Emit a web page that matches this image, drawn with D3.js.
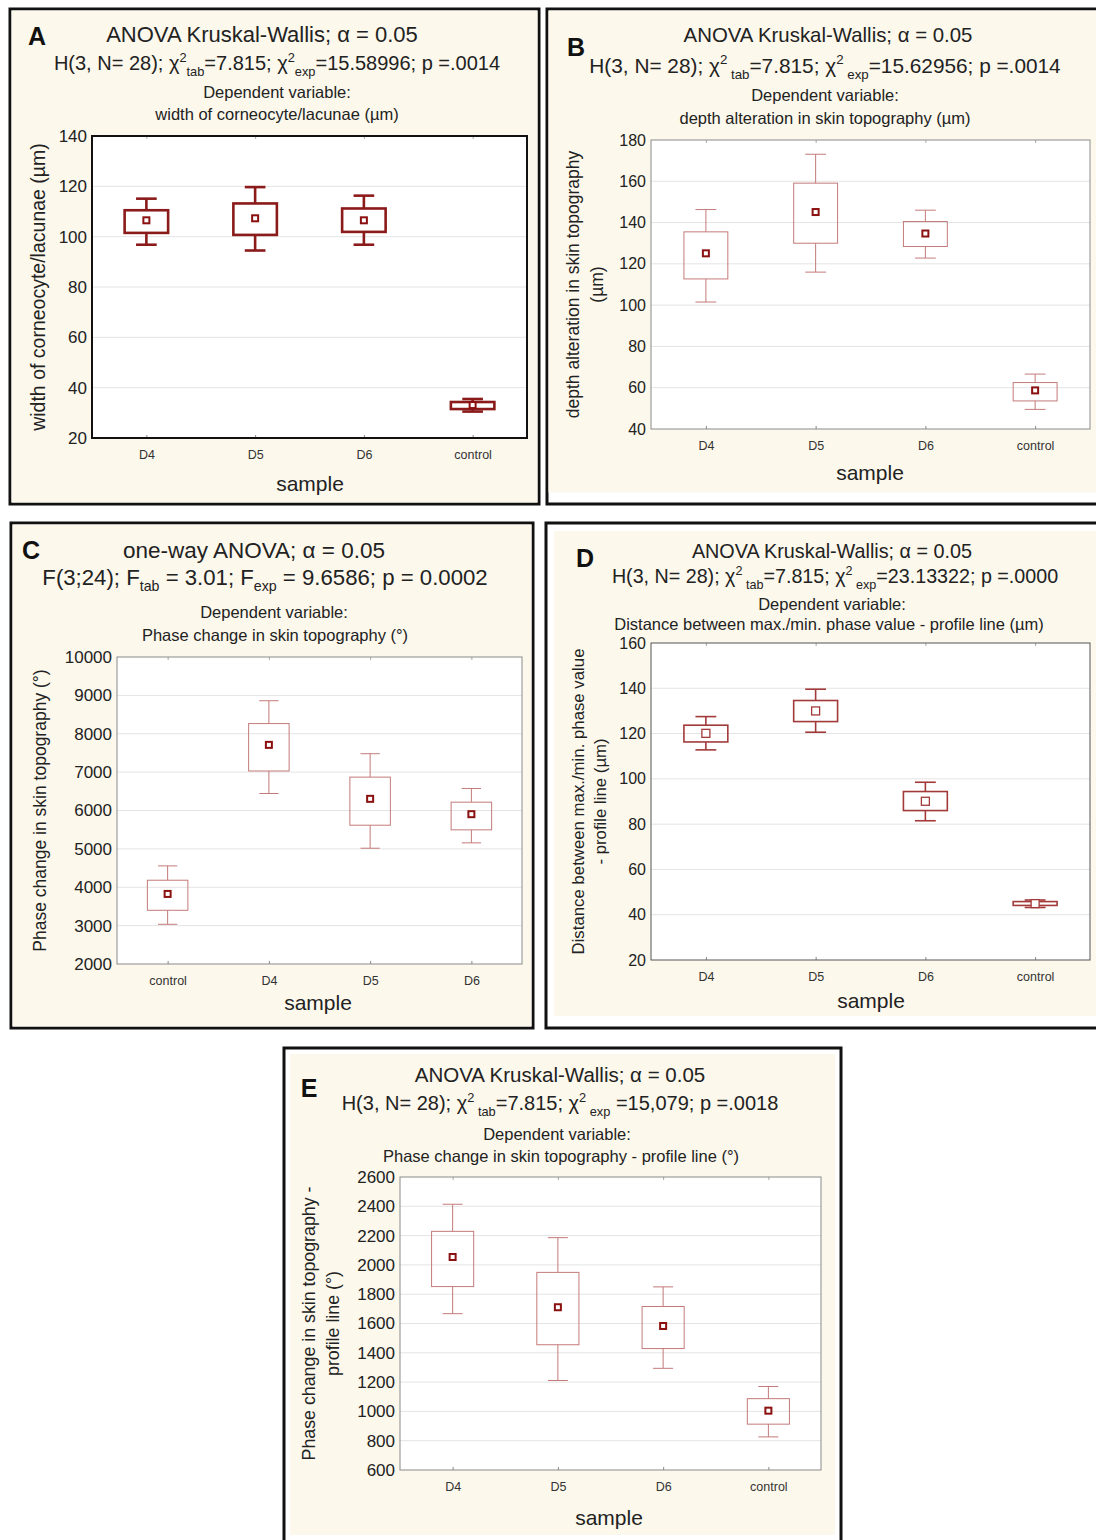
<!DOCTYPE html>
<html>
<head>
<meta charset="utf-8">
<script src="https://cdn.jsdelivr.net/npm/d3@7"></script>
<style>
  body { margin: 0; background: #fff; }
  svg { display: block; font-family: "Liberation Sans", Arial, sans-serif; }
</style>
</head>
<body>
<svg id="fig" width="1096" height="1540"></svg>
<script>
// ---- data ----
const catsA = ["D4", "D5", "D6", "control"];
const whiskHiA = [115.1, 119.7, 116.3, 35.5];
const boxHiA = [110.5, 113.2, 111.2, 34.3];
const meanA = [106.5, 107.3, 106.5, 33.1];
const boxLoA = [101.5, 100.7, 101.9, 31.5];
const whiskLoA = [96.8, 94.5, 96.8, 30.5];
const ticksA = [20, 40, 60, 80, 100, 120, 140];

const catsB = ["D4", "D5", "D6", "control"];
const whiskHiB = [146.3, 173.1, 146.0, 66.6];
const boxHiB = [135.5, 159.1, 140.5, 62.5];
const meanB = [125.1, 145.1, 134.7, 58.7];
const boxLoB = [112.7, 130.0, 128.4, 53.6];
const whiskLoB = [101.5, 116.0, 122.8, 49.5];
const ticksB = [40, 60, 80, 100, 120, 140, 160, 180];

const catsC = ["control", "D4", "D5", "D6"];
const whiskHiC = [4557, 8860, 7480, 6574];
const boxHiC = [4183, 8265, 6870, 6217];
const meanC = [3826, 7710, 6304, 5904];
const boxLoC = [3400, 7030, 5617, 5496];
const whiskLoC = [3035, 6443, 5017, 5157];
const ticksC = [2000, 3000, 4000, 5000, 6000, 7000, 8000, 9000, 10000];

const catsD = ["D4", "D5", "D6", "control"];
const whiskHiD = [127.5, 139.6, 98.5, 46.5];
const boxHiD = [123.7, 134.6, 94.4, 45.8];
const meanD = [120.1, 130.0, 90.1, 44.9];
const boxLoD = [116.3, 125.3, 86.0, 44.1];
const whiskLoD = [112.8, 120.6, 81.5, 43.2];
const ticksD = [20, 40, 60, 80, 100, 120, 140, 160];

const catsE = ["D4", "D5", "D6", "control"];
const whiskHiE = [2414, 2186, 1850, 1170];
const boxHiE = [2229, 1949, 1716, 1087];
const meanE = [2054, 1711, 1583, 1005];
const boxLoE = [1852, 1455, 1429, 913];
const whiskLoE = [1667, 1211, 1294, 826];
const ticksE = [600, 800, 1000, 1200, 1400, 1600, 1800, 2000, 2200, 2400, 2600];

// text lines (segments: plain string, or {sup} / {sub})
const kwLine = "ANOVA Kruskal-Wallis; α = 0.05";
const statA = ["H(3, N= 28); χ", {sup: "2"}, {sub: "tab"}, "=7.815; χ", {sup: "2"}, {sub: "exp"}, "=15.58996; p =.0014"];
const statB = ["H(3, N= 28); χ", {sup: "2"}, {sub: " tab"}, "=7.815; χ", {sup: "2"}, {sub: " exp"}, "=15.62956; p =.0014"];
const statC = ["F(3;24); F", {sub: "tab"}, " = 3.01; F", {sub: "exp"}, " = 9.6586; p = 0.0002"];
const statD = ["H(3, N= 28); χ", {sup: "2"}, {sub: " tab"}, "=7.815; χ", {sup: "2"}, {sub: " exp"}, "=23.13322; p =.0000"];
const statE = ["H(3, N= 28); χ", {sup: "2"}, {sub: " tab"}, "=7.815; χ", {sup: "2"}, {sub: " exp"}, " =15,079; p =.0018"];

const beige = "#fcf8ec";
const svg = d3.select("#fig");

function richText(g, x, y, segs, size, fill) {
  const t = g.append("text").attr("x", x).attr("y", y)
    .attr("text-anchor", "middle").style("font-size", size + "px").style("fill", fill || "#222");
  let shift = 0;
  segs.forEach(s => {
    let target = 0, txt = s, fs = size;
    if (typeof s !== "string") {
      txt = s.sup || s.sub;
      fs = size * 0.64;
      target = s.sup ? -size * 0.42 : size * 0.28;
    }
    t.append("tspan").attr("dy", target - shift).style("font-size", fs + "px").text(txt);
    shift = target;
  });
  return t;
}

function drawPanel(p) {
  const g = svg.append("g");
  // outer frame + beige backing
  g.append("rect").attr("x", p.frame[0]).attr("y", p.frame[1]).attr("width", p.frame[2]).attr("height", p.frame[3])
    .attr("fill", "#fff").attr("stroke", "#111").attr("stroke-width", 3);
  g.append("rect").attr("x", p.bg[0]).attr("y", p.bg[1]).attr("width", p.bg[2]).attr("height", p.bg[3])
    .attr("fill", beige);

  const [px, py, pw, ph] = p.plot;
  const x = d3.scalePoint().domain(p.cats).range([px, px + pw]).padding(0.5);
  const y = d3.scaleLinear().domain(d3.extent(p.ticks)).range([py + ph, py]);
  const step = x.step();

  g.append("rect").attr("x", px).attr("y", py).attr("width", pw).attr("height", ph).attr("fill", "#fff");

  // grid
  g.append("g").selectAll("line").data(p.ticks.slice(1, -1)).join("line")
    .attr("x1", px).attr("x2", px + pw).attr("y1", d => y(d)).attr("y2", d => y(d))
    .attr("stroke", "#e4e4e4").attr("stroke-width", 1);

  // y axis labels
  const ya = g.append("g").attr("transform", `translate(${px - 5},0)`)
    .call(d3.axisLeft(y).tickValues(p.ticks).tickFormat(d3.format("d")).tickSize(0).tickPadding(0));
  ya.select(".domain").remove();
  ya.selectAll("text").style("font-size", p.yFont + "px").style("fill", "#222")
    .style("font-family", "Liberation Sans, Arial, sans-serif");

  // small category ticks top/bottom
  const xb = g.append("g").attr("transform", `translate(0,${py + ph})`)
    .call(d3.axisBottom(x).tickSizeInner(-3).tickSizeOuter(0).tickPadding(12));
  xb.select(".domain").remove();
  xb.selectAll("line").attr("stroke", "#888");
  xb.selectAll("text").style("font-size", "12.5px").style("fill", "#333")
    .style("font-family", "Liberation Sans, Arial, sans-serif");
  const xt = g.append("g").attr("transform", `translate(0,${py})`)
    .call(d3.axisTop(x).tickSizeInner(-3).tickSizeOuter(0).tickFormat(""));
  xt.select(".domain").remove();
  xt.selectAll("line").attr("stroke", "#aaa");

  // plot frame
  g.append("rect").attr("x", px).attr("y", py).attr("width", pw).attr("height", ph)
    .attr("fill", "none").attr("stroke", p.frameColor).attr("stroke-width", p.frameWidth);

  // boxes
  const rows = p.cats.map((c, i) => ({c, wh: p.wh[i], bh: p.bh[i], m: p.mean[i], bl: p.bl[i], wl: p.wl[i]}));
  const bw = step * 0.4, cw = step * 0.19;
  const bx = g.append("g").attr("stroke", p.boxColor).attr("stroke-width", p.boxWidth).attr("fill", "none");
  const item = bx.selectAll("g").data(rows).join("g");
  item.append("line").attr("x1", d => x(d.c)).attr("x2", d => x(d.c)).attr("y1", d => y(d.wh)).attr("y2", d => y(d.bh));
  item.append("line").attr("x1", d => x(d.c)).attr("x2", d => x(d.c)).attr("y1", d => y(d.bl)).attr("y2", d => y(d.wl));
  item.append("line").attr("x1", d => x(d.c) - cw / 2).attr("x2", d => x(d.c) + cw / 2).attr("y1", d => y(d.wh)).attr("y2", d => y(d.wh));
  item.append("line").attr("x1", d => x(d.c) - cw / 2).attr("x2", d => x(d.c) + cw / 2).attr("y1", d => y(d.wl)).attr("y2", d => y(d.wl));
  item.append("rect").attr("x", d => x(d.c) - bw / 2).attr("width", bw)
    .attr("y", d => y(d.bh)).attr("height", d => y(d.bl) - y(d.bh));
  const ms = p.markSize;
  item.append("rect").attr("x", d => x(d.c) - ms / 2).attr("y", d => y(d.m) - ms / 2)
    .attr("width", ms).attr("height", ms).attr("fill", "#fff")
    .attr("stroke", p.markColor).attr("stroke-width", p.markStroke);

  // titles
  g.append("text").attr("x", p.letter[0]).attr("y", p.letter[1]).attr("text-anchor", "middle")
    .style("font-size", "25px").style("font-weight", "bold").style("fill", "#111").text(p.id);
  g.append("text").attr("x", p.t1[0]).attr("y", p.t1[1]).attr("text-anchor", "middle")
    .style("font-size", p.t1Size + "px").style("fill", "#222").text(p.title1);
  richText(g, p.t2[0], p.t2[1], p.stat, p.statSize);
  g.append("text").attr("x", p.t3[0]).attr("y", p.t3[1]).attr("text-anchor", "middle")
    .style("font-size", "16.5px").style("fill", "#222").text("Dependent variable:");
  g.append("text").attr("x", p.t4[0]).attr("y", p.t4[1]).attr("text-anchor", "middle")
    .style("font-size", "16.5px").style("fill", "#222").text(p.depVar);
  g.append("text").attr("x", p.sample[0]).attr("y", p.sample[1]).attr("text-anchor", "middle")
    .style("font-size", "21px").style("fill", "#222").text("sample");

  // rotated y title
  const cy = py + ph / 2 + p.yTitleShift;
  p.yTitle.forEach((line, i) => {
    g.append("text").attr("transform", `translate(${p.yTitleX[i]},${cy}) rotate(-90)`)
      .attr("text-anchor", "middle").attr("dy", "0.35em")
      .style("font-size", p.yTitleFont + "px").style("fill", "#222").text(line);
  });
}

const thinBox = "#c47a7a";
const panels = [
  {id: "A", frame: [10, 9, 529, 495], bg: [11.5, 10.5, 526, 492], plot: [92, 136, 435, 302],
   cats: catsA, wh: whiskHiA, bh: boxHiA, mean: meanA, bl: boxLoA, wl: whiskLoA, ticks: ticksA,
   yFont: 17, frameColor: "#111", frameWidth: 2, boxColor: "#8b1a1a", boxWidth: 2.6,
   markSize: 6, markColor: "#8b1010", markStroke: 2,
   letter: [37, 45], t1: [262, 42], t1Size: 22, t2: [277, 70], statSize: 20, t3: [277, 98], t4: [277, 120],
   title1: kwLine, stat: statA,
   depVar: "width of corneocyte/lacunae (µm)", sample: [310, 491],
   yTitle: ["width of corneocyte/lacunae (µm)"], yTitleX: [38], yTitleFont: 19.5, yTitleShift: 0},
  {id: "B", frame: [547, 9, 560, 495], bg: [548.5, 10.5, 560, 482], plot: [651, 140, 439, 289],
   cats: catsB, wh: whiskHiB, bh: boxHiB, mean: meanB, bl: boxLoB, wl: whiskLoB, ticks: ticksB,
   yFont: 16, frameColor: "#8a8a8a", frameWidth: 1, boxColor: thinBox, boxWidth: 1,
   markSize: 6, markColor: "#8b1010", markStroke: 2,
   letter: [576, 56], t1: [828, 42], t1Size: 20.4, t2: [825, 73], statSize: 20.8, t3: [825, 101], t4: [825, 124],
   title1: kwLine, stat: statB,
   depVar: "depth alteration in skin topography (µm)", sample: [870, 480],
   yTitle: ["depth alteration in skin topography", "(µm)"], yTitleX: [573, 597], yTitleFont: 17.5, yTitleShift: 0},
  {id: "C", frame: [11, 523, 522, 505], bg: [12.5, 524.5, 519, 502], plot: [117, 657, 405, 307],
   cats: catsC, wh: whiskHiC, bh: boxHiC, mean: meanC, bl: boxLoC, wl: whiskLoC, ticks: ticksC,
   yFont: 17, frameColor: "#8a8a8a", frameWidth: 1, boxColor: thinBox, boxWidth: 1,
   markSize: 6, markColor: "#8b1010", markStroke: 2,
   letter: [31, 559], t1: [254, 558], t1Size: 22.5, t2: [265, 585], statSize: 22.2, t3: [274, 618], t4: [275, 641],
   title1: "one-way ANOVA; α = 0.05", stat: statC,
   depVar: "Phase change in skin topography (°)", sample: [318, 1010],
   yTitle: ["Phase change in skin topography (°)"], yTitleX: [40], yTitleFont: 17.5, yTitleShift: 0},
  {id: "D", frame: [546, 523, 560, 505], bg: [554, 531, 560, 485], plot: [651, 643, 439, 317],
   cats: catsD, wh: whiskHiD, bh: boxHiD, mean: meanD, bl: boxLoD, wl: whiskLoD, ticks: ticksD,
   yFont: 16, frameColor: "#555", frameWidth: 1, boxColor: "#a33a3a", boxWidth: 1.6,
   markSize: 8, markColor: "#a33a3a", markStroke: 1.3,
   letter: [585, 567], t1: [832, 558], t1Size: 19.8, t2: [835, 583], statSize: 19.7, t3: [832, 610], t4: [829, 630],
   title1: kwLine, stat: statD,
   depVar: "Distance between max./min. phase value - profile line (µm)", sample: [871, 1008],
   yTitle: ["Distance between max./min. phase value", "- profile line (µm)"], yTitleX: [578, 600], yTitleFont: 16.8, yTitleShift: 0},
  {id: "E", frame: [284, 1048, 557, 510], bg: [290, 1054, 545, 481], plot: [400, 1177, 421, 293],
   cats: catsE, wh: whiskHiE, bh: boxHiE, mean: meanE, bl: boxLoE, wl: whiskLoE, ticks: ticksE,
   yFont: 17, frameColor: "#8a8a8a", frameWidth: 1, boxColor: thinBox, boxWidth: 1,
   markSize: 6, markColor: "#8b1010", markStroke: 2,
   letter: [309, 1097], t1: [560, 1082], t1Size: 20.5, t2: [560, 1110], statSize: 20, t3: [557, 1140], t4: [561, 1162],
   title1: kwLine, stat: statE,
   depVar: "Phase change in skin topography - profile line (°)", sample: [609, 1525],
   yTitle: ["Phase change in skin topography -", "profile line (°)"], yTitleX: [309, 333], yTitleFont: 17.8, yTitleShift: 0}
];

panels.forEach(drawPanel);
</script>
</body>
</html>
